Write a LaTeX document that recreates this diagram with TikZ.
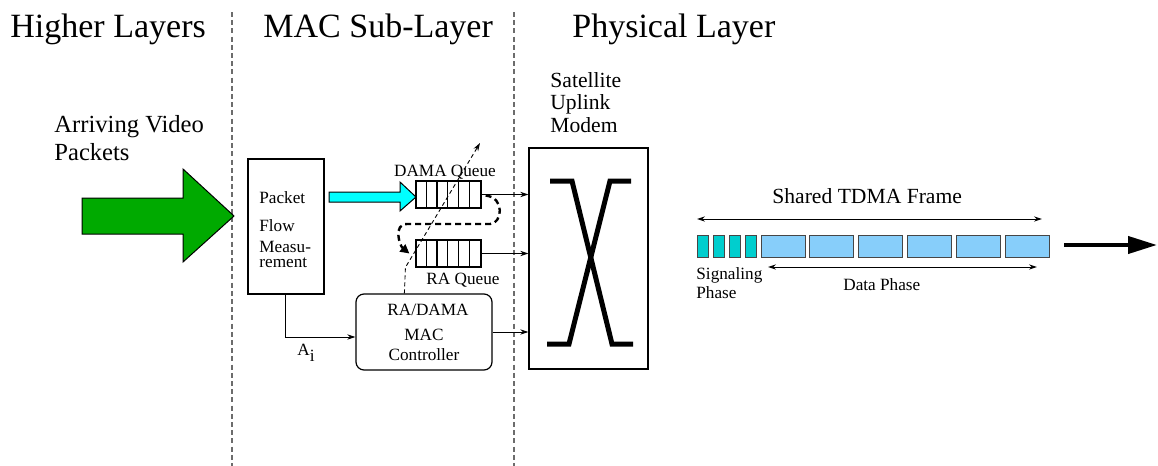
\documentclass[tikz,border=0pt]{standalone}
\usepackage{fontspec}
\setmainfont{Liberation Serif}
\usetikzlibrary{arrows.meta,fit,calc}

\definecolor{pktgreen}{RGB}{0,170,0}
\definecolor{flowcyan}{RGB}{0,255,255}
\definecolor{sigteal}{RGB}{0,206,206}
\definecolor{dataslot}{RGB}{135,206,250}
\definecolor{slotedge}{RGB}{70,70,70}

\newcommand\fTitle{\fontsize{17}{20}\selectfont}
\newcommand\fArrive{\fontsize{12.3}{14}\selectfont}
\newcommand\fMed{\fontsize{10.8}{11.25}\selectfont}
\newcommand\fSmall{\fontsize{8.6}{9.5}\selectfont}

\begin{document}
\begin{tikzpicture}[x=0.5pt,y=-0.5pt,
  >={Stealth[length=4pt,width=2.6pt]},
  lbl/.style={inner sep=0pt,anchor=base west},
  clbl/.style={inner sep=0pt,anchor=base},
  box/.style={draw,line width=0.6pt,inner sep=0pt},
  queue/.style={draw,line width=0.6pt,inner sep=0pt},
  feed/.style={->,line width=0.5pt},
  layer/.style={draw=gray!85!black,line width=0.6pt,dash pattern=on 2.5pt off 1.6pt},
  hop/.style={line width=1.2pt,dash pattern=on 3pt off 2pt,
              -{Triangle[length=4.5pt,width=4.5pt]}},
  sigline/.style={line width=0.45pt,dash pattern=on 2pt off 1.5pt,->},
  xbar/.style={line width=2.5pt,line join=miter},
  sigslot/.style={fill=sigteal,draw=slotedge,line width=0.5pt},
  datslot/.style={fill=dataslot,draw=slotedge,line width=0.5pt},
  bigarrow/.style={line width=2pt,-{Triangle[length=14.5pt,width=8.5pt]}}
]
\useasboundingbox (0,0) rectangle (1158,466);

% layer separators
\draw[layer] (232,12) -- (232,466);
\draw[layer] (514,12) -- (514,466);

% layer titles
\node[lbl,font=\fTitle] (tHigher) at (10,38) {Higher Layers};
\node[lbl,font=\fTitle] (tMac) at (263,38) {MAC Sub-Layer};
\node[lbl,font=\fTitle] (tPhy) at (572,38) {Physical Layer};

% incoming traffic (multi-line labels are anchored on their last baseline)
\node[lbl,font=\fArrive,align=left] (arrive) at (54,160) {Arriving Video\\Packets};
\filldraw[fill=pktgreen,draw=black,line width=0.5pt]
  (82,198) -- (183,198) -- (183,169) -- (234,216) -- (183,262) -- (183,234) -- (82,234) -- cycle;

% packet flow measurement
\node[box,fit={(248,159) (324,294)}] (pfm) {};
\node[lbl,font=\fSmall] (pfm1) at (259,203) {Packet};
\node[lbl,font=\fSmall] (pfm2) at (259,231) {Flow};
\node[lbl,font=\fSmall] (pfm3) at (259,252) {Measu-};
\node[lbl,font=\fSmall] (pfm4) at (259,267) {rement};

% queues
\node[queue,fit={(416,181) (481,208)}] (dama) {};
\node[queue,fit={(416,240) (481,267)}] (ra) {};
\foreach \k in {1,...,5}{
  \draw[line width=0.6pt] ($(dama.north west)+(\k*10.83,0)$) -- ($(dama.south west)+(\k*10.83,0)$);
  \draw[line width=0.6pt] ($(ra.north west)+(\k*10.83,0)$) -- ($(ra.south west)+(\k*10.83,0)$);
}
\node[clbl,font=\fSmall] (damaL) at (445,176) {DAMA Queue};
\node[clbl,font=\fSmall] (raL) at (463,284) {RA Queue};

% flow into the DAMA queue
\filldraw[fill=flowcyan,draw=black,line width=0.5pt]
  (329,192) -- (400,192) -- (400,182) -- (416,197) -- (400,211) -- (400,202) -- (329,202) -- cycle;

% controller
\node[box,rounded corners=4pt,fit={(356,294) (492,370)}] (ctrl) {};
\node[clbl,font=\fSmall] (ctrl1) at (428,315) {RA/DAMA};
\node[clbl,font=\fSmall] (ctrl2) at (424,340) {MAC};
\node[clbl,font=\fSmall] (ctrl3) at (424,360) {Controller};

% modem
\node[lbl,font=\fMed,align=left] (modemL) at (550,132) {Satellite\\Uplink\\Modem};
\node[box,fit={(529,148) (648,369)}] (modem) {};
\draw[xbar] (550,181) -- (572,181) -- (612,344) -- (633,344);
\draw[xbar] (631,181) -- (610,181) -- (569,344) -- (547,344);

% connectors
\draw[feed] (dama.east) -- (dama.east -| modem.west);
\draw[feed] (ra.east) -- (ra.east -| modem.west);
\draw[feed] (ctrl.east) -- (ctrl.east -| modem.west);
\draw[feed] ($(pfm.south west)+(38,0)$) |- ($(ctrl.west)+(0,5)$);
\node[lbl,font=\fSmall] (ai) at (297,355) {A\raisebox{-3pt}{i}};

% DAMA to RA fallback path
\draw[hop] ($(dama.east)+(4,1)$) .. controls +(20,2) and +(12,0) .. (490,224)
  -- (407,224) .. controls +(-14,0) and +(-10,-8) .. ($(ra.west)+(-6,0)$);

% signalling from the controller
\coordinate (sig) at (480,143);
\draw[sigline] ($(ctrl.north west)+(49,0)$) -- ++(1,-26) -- (sig);

% TDMA frame
\node[lbl,font=\fMed] (frameL) at (772,203) {Shared TDMA Frame};
\coordinate (fL) at (697,219);
\coordinate (fR) at (1042,219);
\draw[<->,line width=0.5pt] (fL) -- (fR);
\foreach \i in {0,...,3}
  \filldraw[sigslot] (697+16.3*\i,235) rectangle (708+16.3*\i,257);
\foreach \i in {0,...,5}
  \filldraw[datslot] (761+48.8*\i,235) rectangle (805+48.8*\i,257);
\coordinate (dL) at (768,267);
\coordinate (dR) at (1037,267);
\draw[<->,line width=0.5pt] (dL) -- (dR);
\node[lbl,font=\fSmall,align=left] (sigL) at (696,298) {Signaling\\Phase};
\node[lbl,font=\fSmall] (dataL) at (843,290) {Data Phase};

% outgoing transmission
\coordinate (oL) at (1064,245);
\coordinate (oR) at (1157,245);
\draw[bigarrow] (oL) -- (oR);
\end{tikzpicture}
\end{document}
